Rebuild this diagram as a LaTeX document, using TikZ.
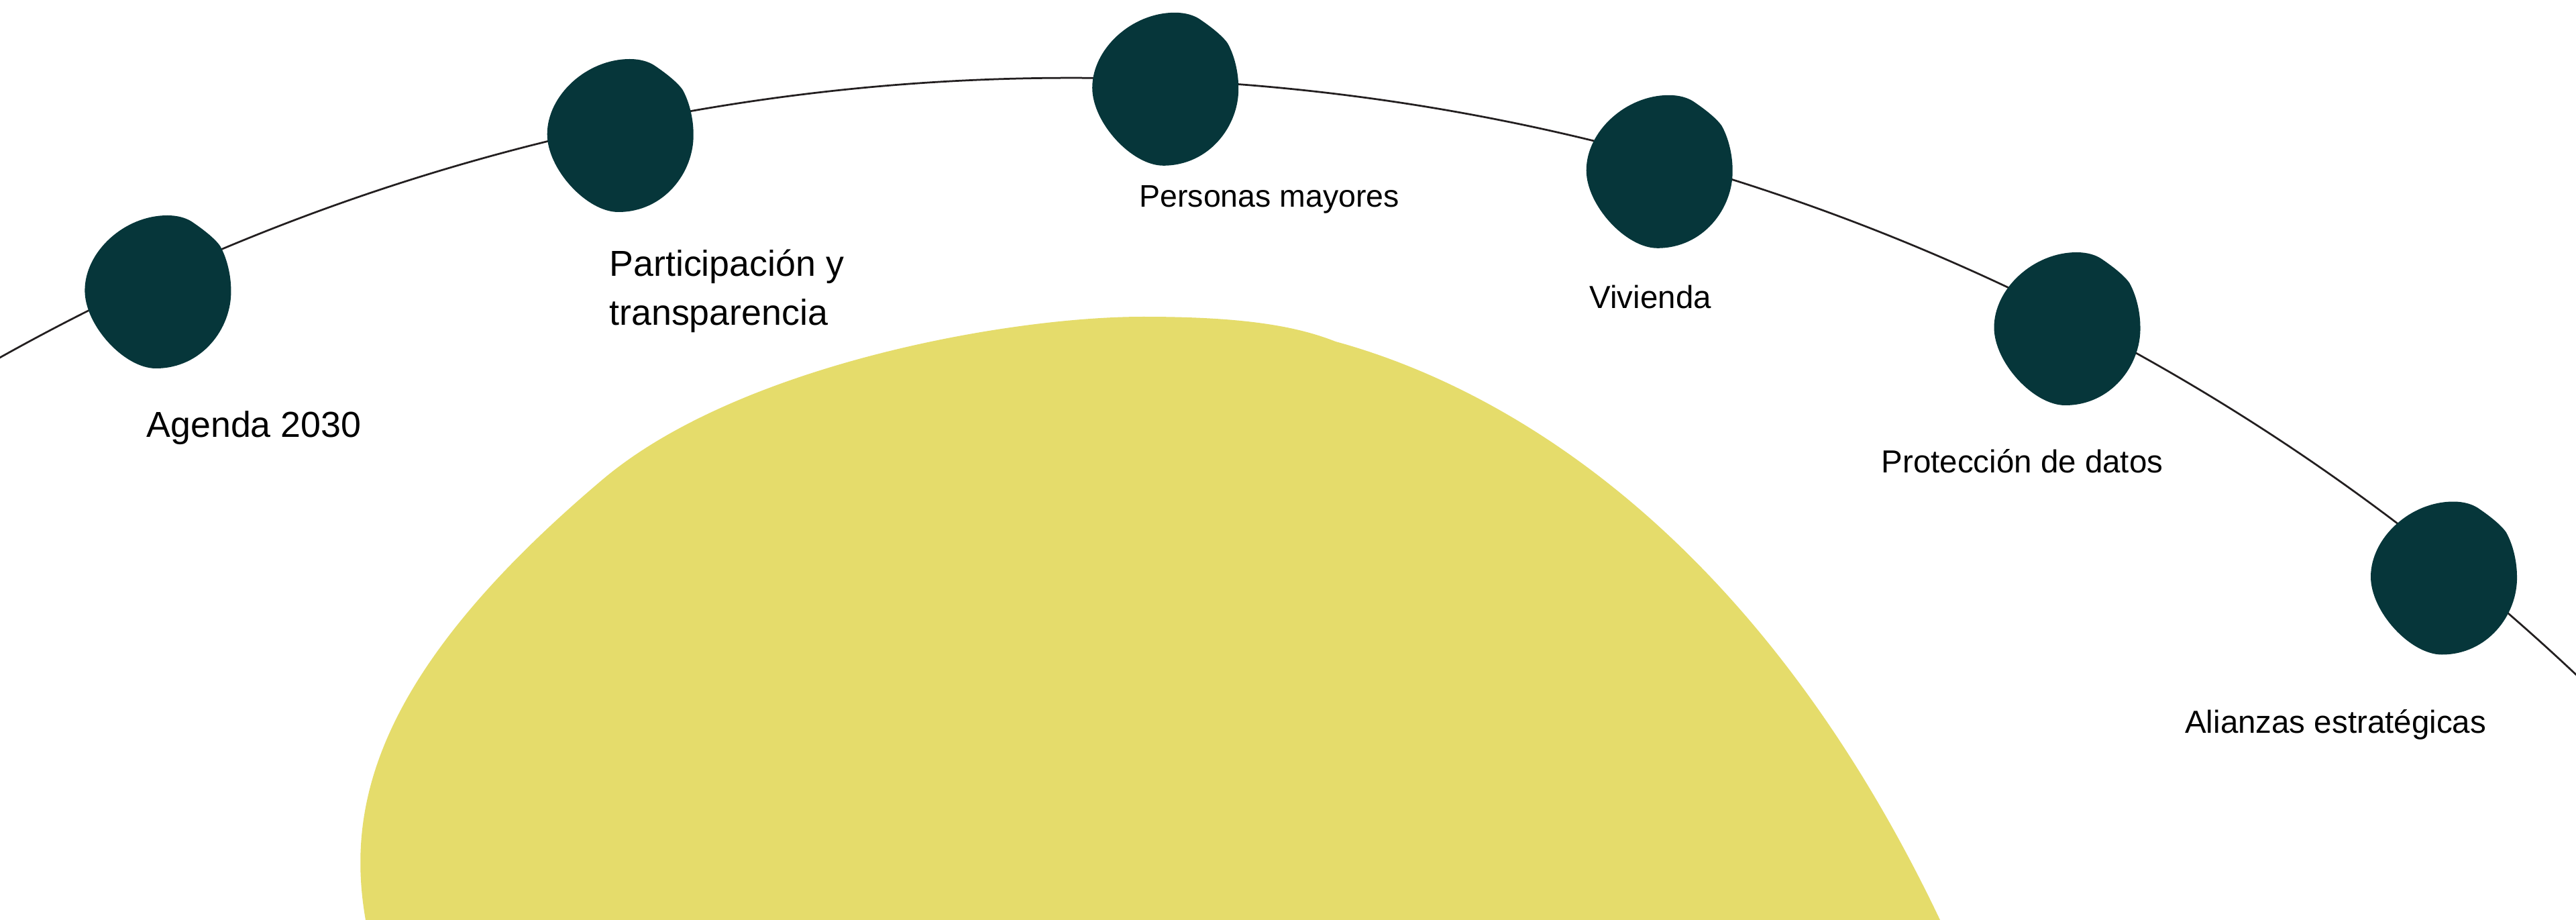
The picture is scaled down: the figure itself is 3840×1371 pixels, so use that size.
\documentclass[tikz,border=0pt]{standalone}
\usepackage{fontspec}
\setmainfont{Liberation Sans}
\definecolor{blobcol}{HTML}{06363A}
\definecolor{suncol}{HTML}{E5DC6B}
\definecolor{linecol}{HTML}{231F20}
\tikzset{
  blob/.pic={\fill[blobcol] (14,-114) .. controls (30,-114) and (42,-110) .. (50,-105)
      .. controls (65,-95) and (85,-80) .. (93,-68)
      .. controls (103,-50) and (109,-25) .. (109,-2)
      .. controls (110,55) and (65,114) .. (-3,114)
      .. controls (-50,114) and (-109,50) .. (-109,-2)
      .. controls (-109,-60) and (-50,-114) .. (14,-114) -- cycle;},
  biglabel/.style={anchor=base west, inner sep=0pt, font=\fontsize{21.5}{26}\selectfont, text=black},
  smalllabel/.style={anchor=base west, inner sep=0pt, font=\fontsize{19}{23}\selectfont, text=black},
  arcline/.style={draw=linecol, line width=1.1pt}
}
\begin{document}
\begin{tikzpicture}[x=0.4pt,y=-0.4pt]
\useasboundingbox (0,0) rectangle (3840,1371);
\clip (0,0) rectangle (3840,1371);
\fill[white] (0,0) rectangle (3840,1371);
% large yellow shape
\fill[suncol] (545,1371) .. controls (515,1200) and (560,1000) .. (899,714)
   .. controls (1100,545) and (1500,472) .. (1704,472)
   .. controls (1850,472) and (1930,485) .. (1991,509)
   .. controls (2250,580) and (2620,800) .. (2892,1371)
   -- (2920,1430) -- (540,1430) -- cycle;
% arc
\coordinate (arcC) at (1597.7,3387.5);
\draw[arcline] (arcC) ++(-120.5:3271.5) arc[start angle=-120.5, end angle=-46, radius=3271.5];
% blobs
\coordinate (b1) at (235.4,435);
\coordinate (b2) at (924.7,202);
\coordinate (b3) at (1737.2,132.8);
\coordinate (b4) at (2473.7,255.8);
\coordinate (b5) at (3081.5,490);
\coordinate (b6) at (3643,861.5);
\foreach \b in {b1,b2,b3,b4,b5,b6} {\pic at (\b) {blob};}
% labels
\node[biglabel] (agenda) at (218,651.7) {Agenda 2030};
\node[biglabel] (part1) at (908,411.7) {Participación y};
\node[biglabel] (part2) at (908,485) {transparencia};
\node[smalllabel, font=\fontsize{18.6}{23}\selectfont] (personas) at (1698,308.3) {Personas mayores};
\node[smalllabel] (vivienda) at (2369,459.3) {Vivienda};
\node[smalllabel] (proteccion) at (2804,704.6) {Protección de datos};
\node[smalllabel] (alianzas) at (3256.7,1092.3) {Alianzas estratégicas};
\end{tikzpicture}
\end{document}
